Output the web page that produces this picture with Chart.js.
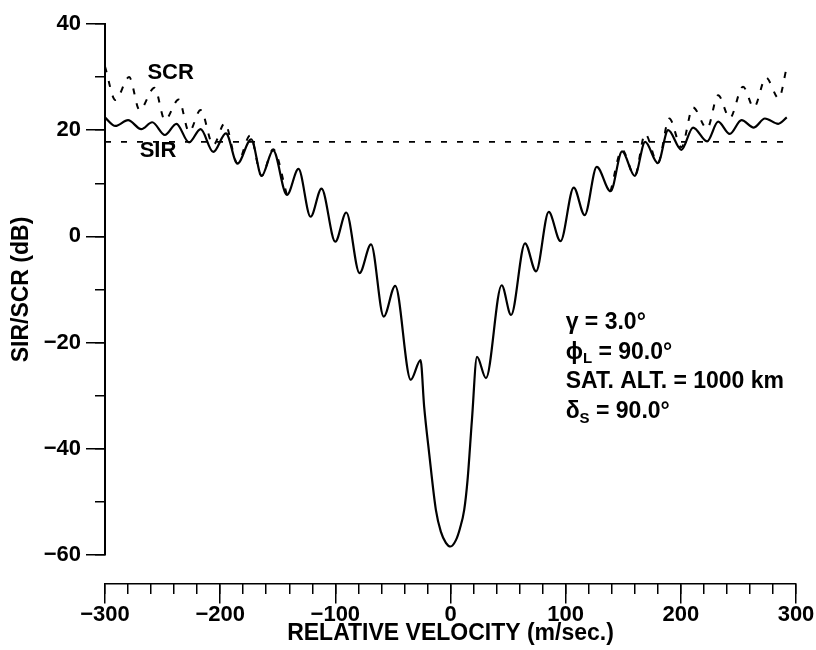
<!DOCTYPE html>
<html>
<head>
<meta charset="utf-8">
<script src="https://cdn.jsdelivr.net/npm/chart.js@4/dist/chart.umd.min.js"></script>
<style>
html,body{margin:0;padding:0;background:#fff;}
#wrap{width:816px;height:650px;position:relative;}
</style>
</head>
<body>
<div id="wrap"><canvas id="c" width="816" height="650"></canvas></div>
<script>
// ---- data ----
const seriesNames = ['SIR', 'SCR'];
const xTitle = 'RELATIVE VELOCITY (m/sec.)';
const yTitle = 'SIR/SCR (dB)';

const sirX = [-300,-291,-280,-268.5,-259,-248,-238,-227,-217,-206,-195,-185,-173,-164,-154,-142,-132,-121.5,-112,-100,
  -90.5,-79,-69,-58,-48,-34.5,-26,-22.9,-18.5,-12.7,-8.4,-4,0,4.7,8.2,11.9,14.8,18.6,23,30.8,
  44.4,52.6,64.7,74.3,85.3,95.5,107,116.5,127,139,149,160,169,180,189,200.5,210.6,222.8,232.4,242.5,
  252.7,263.4,273,284.6,292];
const sirY = [22.4,20.8,21.9,20.2,21.5,19.1,21.2,17.7,20.2,15.9,19.4,13.7,18.3,11.4,16.2,7.8,12.7,3.7,9.0,-1.0,
  4.5,-6.9,-1.5,-15.1,-9.3,-27.0,-23.3,-32,-40.9,-51.5,-55.6,-57.7,-58.4,-57.2,-55.0,-51.5,-45.9,-34.6,-22.7,-26.7,
  -9.2,-14.8,-1.3,-6.6,4.6,-0.9,9.2,4.0,13.1,8.5,16.0,11.4,17.8,13.8,20.0,16.3,20.5,17.9,21.6,19.3,
  21.9,20.5,22.2,21.2,22.4];

const scrLeftX = [-300,-291,-279,-270,-257,-248,-236,-227,-217,-206,-196,-185,-174,-164,-154,-142];
const scrLeftY = [32.0,25.7,30.0,23.8,28.0,21.9,25.8,19.7,23.8,17.2,21.3,13.8,19.0,11.4,16.4,7.8];
const scrRightX = [139,149,160,169,180,190,200.5,210.6,222.8,232.4,242.5,254,263.4,274,285,292];
const scrRightY = [8.5,16.3,11.4,19.3,13.8,22.2,16.8,24.3,20.3,26.6,22.3,28.2,24.3,29.9,26.0,31.9];

const refX = [-300, 292];
const refY = [17.8, 17.8];

const xMajorTicks = [-300,-200,-100,0,100,200,300];
const yMajorTicks = [-60,-40,-20,0,20,40];

const paramLines = [
  ['\u03B3', '', ' = 3.0\u00B0'],
  ['\u03D5', 'L', ' = 90.0\u00B0'],
  ['SAT. ALT. = 1000 km', '', ''],
  ['\u03B4', 'S', ' = 90.0\u00B0']
];

// ---- helpers ----
const pts = (xs, ys) => xs.map((x, i) => ({x: x, y: ys[i]}));
const FONT = '"Liberation Sans", Arial, Helvetica, sans-serif';
const fmt = v => (v < 0 ? '\u2212' + Math.abs(v) : String(v));
const AXIS_Y_POS = -65.4;

const textPlugin = {
  id: 'texts',
  afterDraw(chart) {
    const ctx = chart.ctx, xs = chart.scales.x, ys = chart.scales.y;
    ctx.save();
    ctx.fillStyle = '#000';
    ctx.textBaseline = 'middle';
    ctx.textAlign = 'center';
    ctx.font = 'bold 22px ' + FONT;
    ctx.fillText(seriesNames[1], xs.getPixelForValue(-243), ys.getPixelForValue(30.8));
    ctx.fillText(seriesNames[0], xs.getPixelForValue(-254), ys.getPixelForValue(16.1));

    ctx.textAlign = 'left';
    const lineVals = [-16.3, -21.8, -27.4, -33.0];
    const x0 = xs.getPixelForValue(100);
    paramLines.forEach((ln, i) => {
      let px = x0;
      const py = ys.getPixelForValue(lineVals[i]);
      ctx.font = 'bold 23px ' + FONT;
      ctx.fillText(ln[0], px, py);
      px += ctx.measureText(ln[0]).width;
      if (ln[1]) {
        ctx.font = 'bold 15px ' + FONT;
        ctx.fillText(ln[1], px, py + 7);
        px += ctx.measureText(ln[1]).width;
      }
      if (ln[2]) {
        ctx.font = 'bold 23px ' + FONT;
        ctx.fillText(ln[2], px, py);
      }
    });
    ctx.restore();
  }
};

const lineBase = {
  borderColor: '#000',
  backgroundColor: '#000',
  pointRadius: 0,
  fill: false,
  cubicInterpolationMode: 'monotone'
};

new Chart(document.getElementById('c'), {
  type: 'line',
  data: {
    datasets: [
      Object.assign({}, lineBase, {label: seriesNames[0], data: pts(sirX, sirY), borderWidth: 2.2}),
      Object.assign({}, lineBase, {label: seriesNames[1], data: pts(scrLeftX, scrLeftY), borderWidth: 2, borderDash: [6, 9]}),
      Object.assign({}, lineBase, {label: seriesNames[1] + ' ', data: pts(scrRightX, scrRightY), borderWidth: 2, borderDash: [6, 9]}),
      Object.assign({}, lineBase, {label: 'ref', data: pts(refX, refY), borderWidth: 1.6, borderDash: [6, 10], cubicInterpolationMode: 'default', tension: 0})
    ]
  },
  options: {
    responsive: false,
    animation: false,
    devicePixelRatio: 1,
    parsing: true,
    layout: {padding: {top: 24, right: 20, bottom: 95, left: 0}},
    plugins: {legend: {display: false}, tooltip: {enabled: false}},
    scales: {
      x: {
        type: 'linear', min: -300, max: 300,
        position: {y: AXIS_Y_POS},
        border: {display: true, color: '#000', width: 1.5},
        grid: {display: true, drawOnChartArea: false, drawTicks: true, tickLength: 19, color: '#000', lineWidth: 1.5},
        afterBuildTicks: s => { s.ticks = xMajorTicks.map(v => ({value: v})); },
        ticks: {color: '#000', font: {family: FONT, size: 22, weight: 'bold', lineHeight: 1}, padding: 1,
                maxRotation: 0, autoSkip: false, callback: fmt},
        title: {display: true, text: xTitle, color: '#000', font: {family: FONT, size: 23, weight: 'bold'}, padding: {top: -7, bottom: 0}}
      },
      x2: {
        type: 'linear', axis: 'x', min: -300, max: 300,
        position: {y: AXIS_Y_POS},
        border: {display: false},
        grid: {display: true, drawOnChartArea: false, drawTicks: true, tickLength: 10, color: '#000', lineWidth: 1.5},
        ticks: {display: false, stepSize: 20}
      },
      y: {
        type: 'linear', min: -60, max: 40, position: 'left',
        afterFit: s => { s.width = 105; },
        border: {display: true, color: '#000', width: 2},
        grid: {display: true, drawOnChartArea: false, drawTicks: true, tickLength: 19, color: '#000', lineWidth: 1.5},
        afterBuildTicks: s => { s.ticks = yMajorTicks.map(v => ({value: v})); },
        ticks: {color: '#000', font: {family: FONT, size: 22, weight: 'bold', lineHeight: 1}, padding: 5, callback: fmt},
        title: {display: true, text: yTitle, color: '#000', font: {family: FONT, size: 23, weight: 'bold'}, padding: {top: 8, bottom: 0}}
      },
      y2: {
        type: 'linear', axis: 'y', min: -60, max: 40,
        position: {x: -300},
        border: {display: false},
        grid: {display: true, drawOnChartArea: false, drawTicks: true, tickLength: 10, color: '#000', lineWidth: 1.5},
        ticks: {display: false, stepSize: 10}
      }
    }
  },
  plugins: [textPlugin]
});
</script>
</body>
</html>
